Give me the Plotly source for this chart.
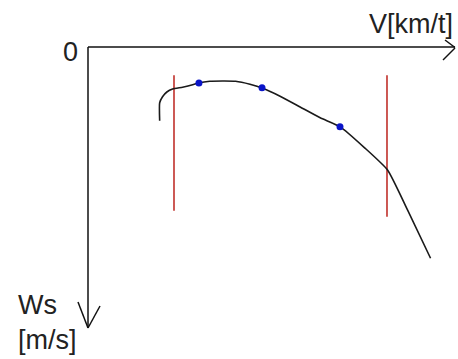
import plotly.graph_objects as go

# Polar curve (V in km/t, Ws in m/s; Ws measured downward)
curve_v = [50, 50, 52, 55, 59, 66, 73, 77, 85, 103, 113, 121, 134, 148, 162, 176, 193, 209, 223, 239]
curve_ws = [1.23, 0.93, 0.83, 0.75, 0.70, 0.67, 0.63, 0.60, 0.57, 0.57, 0.62, 0.68, 0.82, 1.00, 1.18, 1.33, 1.68, 2.05, 2.72, 3.52]

# Marked points
dot_v = [77.4, 121.4, 175.8]
dot_ws = [0.60, 0.68, 1.33]

# Red limit lines
limit_v = [60, 208.6]
limit_top = [0.47, 0.47]
limit_bottom = [2.73, 2.83]

x_max = 256.05
y_max = 4.683

W, H = 458, 359
L, R, T, B = 88, 3, 47, 31
pw, ph = W - L - R, H - T - B

def px(xp):
    return (xp - L) / pw

def py(yp):
    return 1 - (yp - T) / ph

fig = go.Figure()

for v, a, b in zip(limit_v, limit_top, limit_bottom):
    fig.add_trace(go.Scatter(x=[v, v], y=[a, b], mode="lines",
                             line=dict(color="#c0302b", width=1.6),
                             hoverinfo="skip", showlegend=False))

fig.add_trace(go.Scatter(x=curve_v, y=curve_ws, mode="lines",
                         line=dict(color="#1a1a1a", width=1.6, shape="spline", smoothing=0.5),
                         showlegend=False))

fig.add_trace(go.Scatter(x=dot_v, y=dot_ws, mode="markers",
                         marker=dict(color="#0a14c8", size=7),
                         showlegend=False))

shapes = []
axis_line = dict(color="#111111", width=1.5)
# horizontal axis
shapes.append(dict(type="line", xref="paper", yref="paper", x0=0, x1=px(455), y0=1, y1=1, line=axis_line))
shapes.append(dict(type="line", xref="paper", yref="paper", x0=px(445), y0=py(40), x1=px(455), y1=py(47.5), line=axis_line))
shapes.append(dict(type="line", xref="paper", yref="paper", x0=px(443), y0=py(60), x1=px(455), y1=py(48), line=axis_line))
# vertical axis
shapes.append(dict(type="line", xref="paper", yref="paper", x0=0, x1=0, y0=1, y1=py(328), line=axis_line))
shapes.append(dict(type="line", xref="paper", yref="paper", x0=px(78), y0=py(302), x1=px(88), y1=py(328), line=axis_line))
shapes.append(dict(type="line", xref="paper", yref="paper", x0=px(100), y0=py(306), x1=px(88), y1=py(328), line=axis_line))

font = dict(family="Liberation Sans, Arial, sans-serif", size=27, color="#222222")
annotations = [
    dict(text="0", x=px(80), y=py(52), xref="paper", yref="paper", xanchor="right", yanchor="middle", showarrow=False, font=font),
    dict(text="V[km/t]", x=px(455), y=py(24), xref="paper", yref="paper", xanchor="right", yanchor="middle", showarrow=False, font=font),
    dict(text="Ws", x=px(16), y=py(305), xref="paper", yref="paper", xanchor="left", yanchor="middle", showarrow=False, font=font),
    dict(text="[m/s]", x=px(16), y=py(340), xref="paper", yref="paper", xanchor="left", yanchor="middle", showarrow=False, font=font),
]

fig.update_layout(
    width=W, height=H,
    margin=dict(l=L, r=R, t=T, b=B, pad=0),
    paper_bgcolor="white", plot_bgcolor="white",
    xaxis=dict(range=[0, x_max], visible=False, fixedrange=True),
    yaxis=dict(range=[y_max, 0], visible=False, fixedrange=True),
    shapes=shapes, annotations=annotations,
    showlegend=False,
)

fig.write_html("out.html", config={"displayModeBar": False})

# remove the browser's default page margin so the figure sits at (0, 0)
with open("out.html", encoding="utf-8") as f:
    html = f.read()
html = html.replace("<head>", "<head><style>html,body{margin:0;padding:0;overflow:hidden;}</style>", 1)
with open("out.html", "w", encoding="utf-8") as f:
    f.write(html)
